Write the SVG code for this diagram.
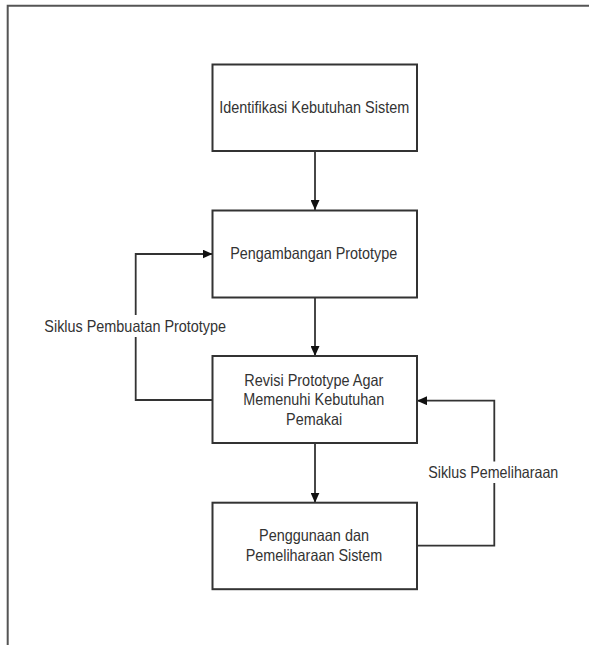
<svg xmlns="http://www.w3.org/2000/svg" width="589" height="645" viewBox="0 0 589 645">
  <style>
    .box { fill: #ffffff; stroke: #333333; stroke-width: 2; }
    .lbl { font-family: "Liberation Sans", Arial, sans-serif; font-size: 16.5px; fill: #333333; text-anchor: middle; }
    .wire { fill: none; stroke: #333333; stroke-width: 1.8; }
    .frame { fill: none; stroke: #555555; stroke-width: 2; }
    .mask { fill: #ffffff; }
  </style>
  <defs>
    <marker id="arrow" markerUnits="userSpaceOnUse" markerWidth="10" markerHeight="9" refX="10" refY="4.5" orient="auto">
      <path d="M0,0 L10,4.5 L0,9 z" fill="#111111"/>
    </marker>
  </defs>

  <rect x="0" y="0" width="589" height="645" fill="#ffffff"/>
  <!-- page frame: top and left edges -->
  <path class="frame" d="M7.7,645 V5.7 H589"/>

  <!-- connectors -->
  <g id="connectors">
    <path class="wire" d="M315,151 V210" marker-end="url(#arrow)"/>
    <path class="wire" d="M315,298 V356" marker-end="url(#arrow)"/>
    <path class="wire" d="M315,443.5 V502.7" marker-end="url(#arrow)"/>
    <path class="wire" d="M212.5,400 H135.7 V254 H212.5" marker-end="url(#arrow)"/>
    <path class="wire" d="M417,545.7 H494.3 V400.7 H417" marker-end="url(#arrow)"/>
  </g>

  <!-- loop labels -->
  <g id="label-prototype-cycle">
    <rect class="mask" x="44" y="315" width="182" height="22"/>
    <text class="lbl" x="135.2" y="332" textLength="181.7" lengthAdjust="spacingAndGlyphs">Siklus Pembuatan Prototype</text>
  </g>
  <g id="label-maintenance-cycle">
    <rect class="mask" x="428" y="461.5" width="131" height="21.5"/>
    <text class="lbl" x="493.3" y="477.5" textLength="130" lengthAdjust="spacingAndGlyphs">Siklus Pemeliharaan</text>
  </g>

  <!-- process steps -->
  <g id="node-identifikasi">
    <rect class="box" x="212.5" y="64.5" width="204.5" height="86.5"/>
    <text class="lbl" x="314.2" y="113.2" textLength="190" lengthAdjust="spacingAndGlyphs">Identifikasi Kebutuhan Sistem</text>
  </g>
  <g id="node-pengembangan">
    <rect class="box" x="212.5" y="210.5" width="204.5" height="87"/>
    <text class="lbl" x="313.7" y="258.8" textLength="167" lengthAdjust="spacingAndGlyphs">Pengambangan Prototype</text>
  </g>
  <g id="node-revisi">
    <rect class="box" x="212.5" y="356" width="204.5" height="87"/>
    <text class="lbl" x="313.8" y="385.6" textLength="139" lengthAdjust="spacingAndGlyphs">Revisi Prototype Agar</text>
    <text class="lbl" x="313.8" y="405.4" textLength="141" lengthAdjust="spacingAndGlyphs">Memenuhi Kebutuhan</text>
    <text class="lbl" x="314.1" y="425" textLength="56" lengthAdjust="spacingAndGlyphs">Pemakai</text>
  </g>
  <g id="node-penggunaan">
    <rect class="box" x="212.5" y="502.7" width="204.5" height="86.5"/>
    <text class="lbl" x="314" y="541" textLength="110" lengthAdjust="spacingAndGlyphs">Penggunaan dan</text>
    <text class="lbl" x="314" y="561" textLength="136.7" lengthAdjust="spacingAndGlyphs">Pemeliharaan Sistem</text>
  </g>
</svg>
